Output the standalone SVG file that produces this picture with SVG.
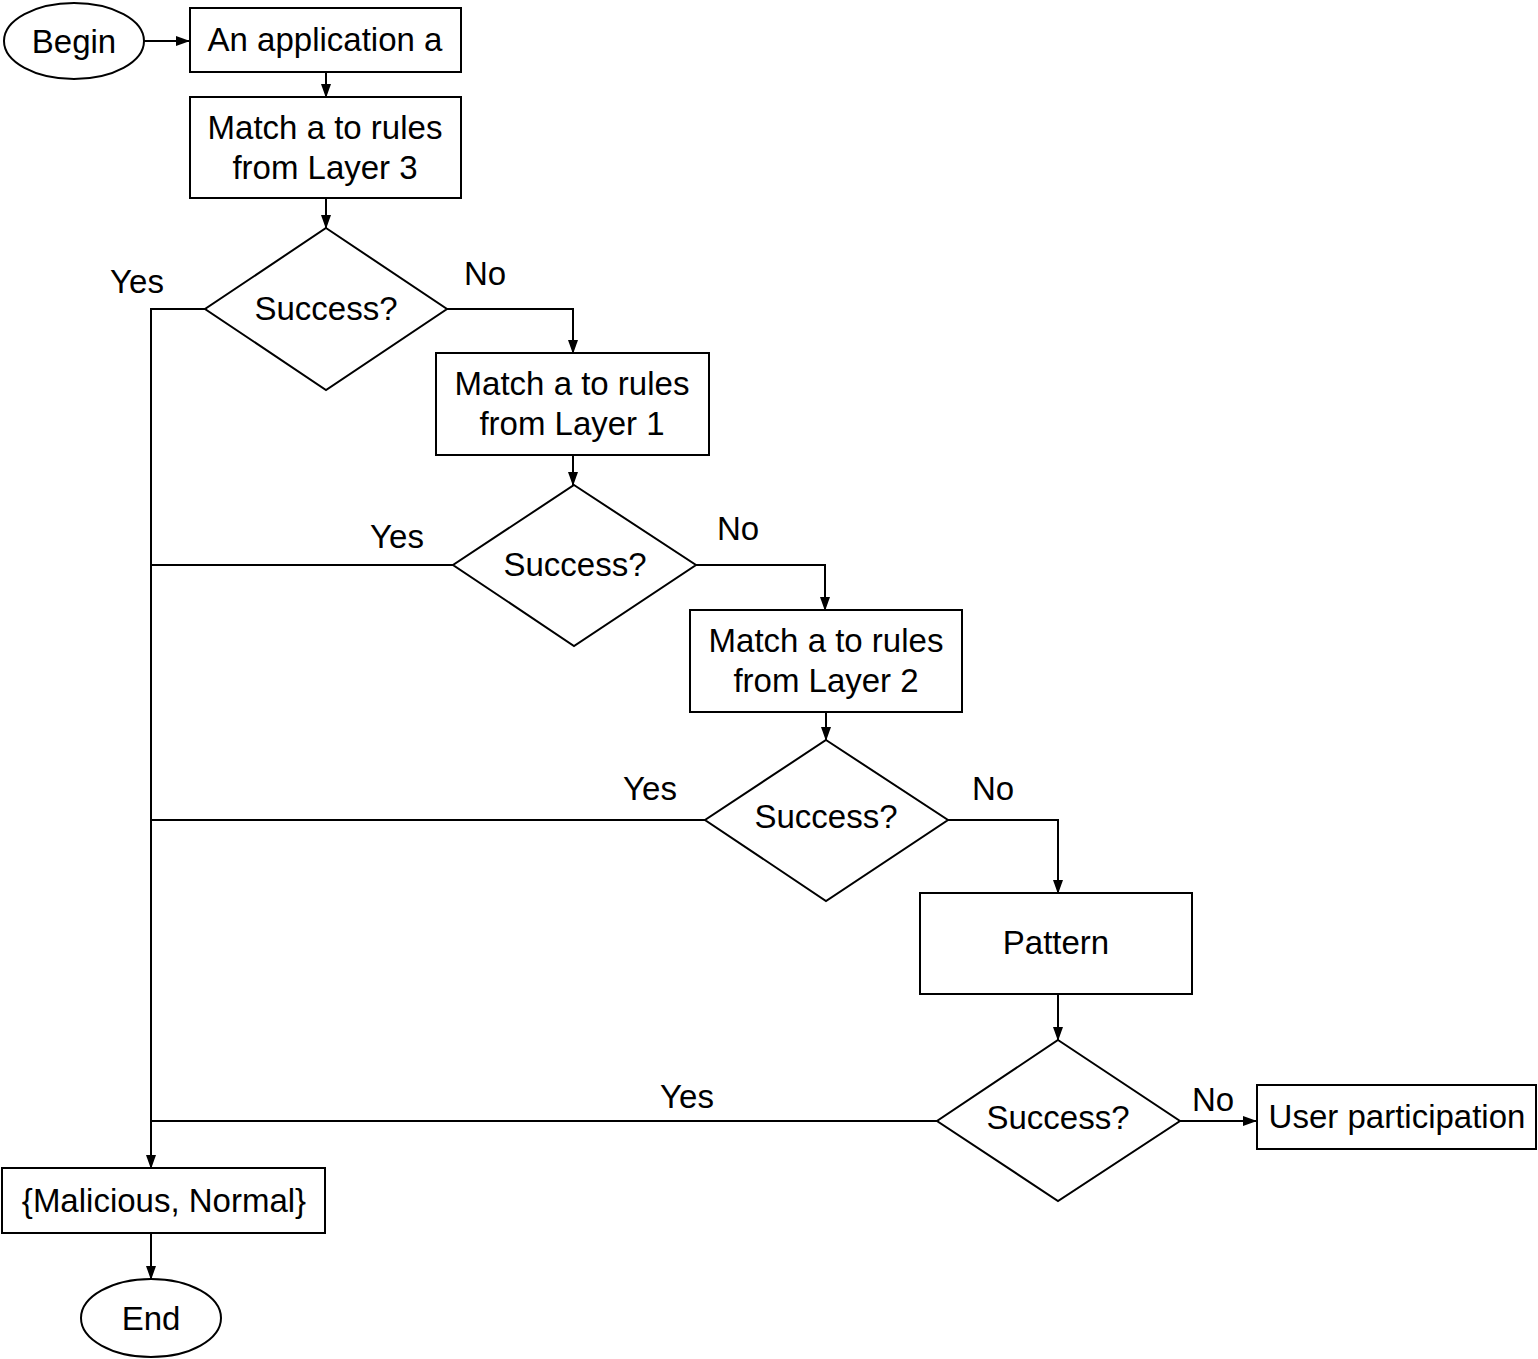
<svg xmlns="http://www.w3.org/2000/svg" width="1538" height="1359" viewBox="0 0 1538 1359">
<style>
.s{fill:#fff;stroke:#000;stroke-width:2}
.c{fill:none;stroke:#000;stroke-width:2}
text{font-family:"Liberation Sans",Arial,sans-serif;font-size:33px;fill:#000;text-anchor:middle}
</style>
<defs>
<marker id="ah" markerWidth="14" markerHeight="10" refX="13" refY="5" orient="auto" markerUnits="userSpaceOnUse">
<path d="M0,0 L14,5 L0,10 Z" fill="#000"/>
</marker>
</defs>
<rect width="1538" height="1359" fill="#fff"/>
<g id="connectors">
<path class="c" d="M144,41 H189" marker-end="url(#ah)"/>
<path class="c" d="M326,72 V97" marker-end="url(#ah)"/>
<path class="c" d="M326,198 V228" marker-end="url(#ah)"/>
<path class="c" d="M205,309 H151 V1168" marker-end="url(#ah)"/>
<path class="c" d="M447,309 H573 V353" marker-end="url(#ah)"/>
<path class="c" d="M573,455 V485" marker-end="url(#ah)"/>
<path class="c" d="M453,565 H151"/>
<path class="c" d="M696,565 H825 V610" marker-end="url(#ah)"/>
<path class="c" d="M826,712 V740" marker-end="url(#ah)"/>
<path class="c" d="M705,820 H151"/>
<path class="c" d="M948,820 H1058 V893" marker-end="url(#ah)"/>
<path class="c" d="M1058,994 V1040" marker-end="url(#ah)"/>
<path class="c" d="M937,1121 H151"/>
<path class="c" d="M1180,1121 H1256" marker-end="url(#ah)"/>
<path class="c" d="M151,1233 V1279" marker-end="url(#ah)"/>
<text x="137" y="293">Yes</text>
<text x="485" y="285">No</text>
<text x="397" y="548">Yes</text>
<text x="738" y="540">No</text>
<text x="650" y="800">Yes</text>
<text x="993" y="800">No</text>
<text x="687" y="1108">Yes</text>
<text x="1213" y="1111">No</text>
</g>
<g id="begin"><ellipse class="s" cx="74" cy="41" rx="70" ry="38"/><text x="74" y="53">Begin</text></g>
<g id="app"><rect class="s" x="190" y="8" width="271" height="64"/><text x="325" y="51">An application a</text></g>
<g id="layer3"><rect class="s" x="190" y="97" width="271" height="101"/><text x="325" y="139">Match a to rules</text><text x="325" y="179">from Layer 3</text></g>
<g id="d1"><polygon class="s" points="326,228 447,309 326,390 205,309"/><text x="326" y="320">Success?</text></g>
<g id="layer1"><rect class="s" x="436" y="353" width="273" height="102"/><text x="572" y="395">Match a to rules</text><text x="572" y="435">from Layer 1</text></g>
<g id="d2"><polygon class="s" points="574,485 696,565 574,646 453,565"/><text x="575" y="576">Success?</text></g>
<g id="layer2"><rect class="s" x="690" y="610" width="272" height="102"/><text x="826" y="652">Match a to rules</text><text x="826" y="692">from Layer 2</text></g>
<g id="d3"><polygon class="s" points="826,740 948,820 826,901 705,820"/><text x="826" y="828">Success?</text></g>
<g id="pattern"><rect class="s" x="920" y="893" width="272" height="101"/><text x="1056" y="954">Pattern</text></g>
<g id="d4"><polygon class="s" points="1058,1040 1180,1121 1058,1201 937,1121"/><text x="1058" y="1129">Success?</text></g>
<g id="user"><rect class="s" x="1257" y="1085" width="279" height="64"/><text x="1397" y="1128">User participation</text></g>
<g id="result"><rect class="s" x="2" y="1168" width="323" height="65"/><text x="164" y="1212">{Malicious, Normal}</text></g>
<g id="end"><ellipse class="s" cx="151" cy="1318" rx="70" ry="39"/><text x="151" y="1330">End</text></g>
</svg>
